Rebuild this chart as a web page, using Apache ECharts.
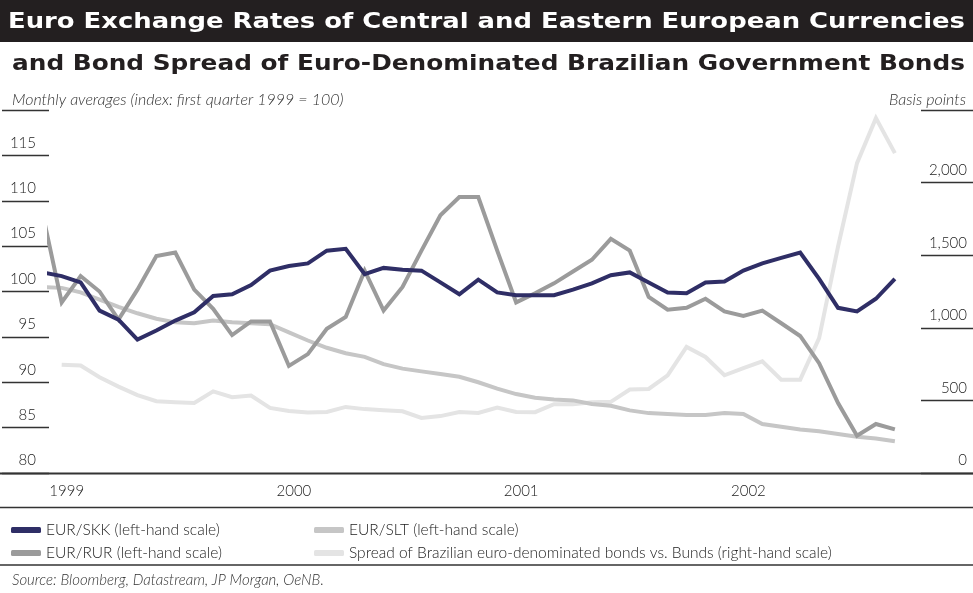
<!DOCTYPE html>
<html>
<head>
<meta charset="utf-8">
<title>Euro Exchange Rates of CEE Currencies and Brazilian Bond Spread</title>
<script src="https://cdn.jsdelivr.net/npm/echarts@6.0.0/dist/echarts.min.js"></script>
<style>
  html, body { margin: 0; padding: 0; background: #fff; }
  #chart { width: 973px; height: 593px; }
</style>
</head>
<body>
<div id="chart"></div>
<script>
// month index: -1 = Dec 1998, 0 = Jan 1999 ... 44 = Sep 2002
var firstMonth = -1;
var yearTicks = [0, 12, 24, 36];

// index, first quarter 1999 = 100 (left-hand scale)
var skk = [102.1, 101.7, 101.0, 97.9, 96.9, 94.7, 95.7, 96.8, 97.7, 99.5,
  99.7, 100.7, 102.3, 102.8, 103.1, 104.5, 104.7, 101.9, 102.6, 102.4,
  102.3, 101.0, 99.7, 101.3, 99.9, 99.6, 99.6, 99.6, 100.2, 100.9,
  101.8, 102.1, 101.0, 99.9, 99.8, 101.0, 101.1, 102.3, 103.1, 103.7,
  104.3, 101.4, 98.2, 97.8, 99.2, 101.4];
var rur = [108.5, 98.8, 101.7, 100.0, 96.9, 100.2, 103.9, 104.3, 100.2, 98.1,
  95.2, 96.7, 96.7, 91.8, 93.1, 95.9, 97.2, 102.3, 97.9, 100.5,
  104.5, 108.4, 110.4, 110.4, 104.5, 98.8, 99.8, 100.9, 102.2, 103.5,
  105.8, 104.5, 99.4, 98.0, 98.2, 99.2, 97.8, 97.3, 97.9, 96.5,
  95.1, 92.1, 87.7, 84.1, 85.4, 84.8];
var slt = [100.5, 100.4, 99.9, 99.1, 98.3, 97.6, 97.0, 96.6, 96.5, 96.8,
  96.6, 96.5, 96.4, 95.5, 94.6, 93.8, 93.2, 92.8, 92.0, 91.5,
  91.2, 90.9, 90.6, 90.0, 89.3, 88.7, 88.3, 88.1, 88.0, 87.6,
  87.4, 86.9, 86.6, 86.5, 86.4, 86.4, 86.6, 86.5, 85.4, 85.1,
  84.8, 84.6, 84.3, 84.0, 83.8, 83.5];
// basis points (right-hand scale)
var spread = [null, 746, 740, 660, 595, 536, 494, 488, 482, 562,
  522, 534, 448, 427, 417, 420, 455, 440, 432, 425,
  379, 392, 420, 413, 450, 420, 419, 474, 474, 487,
  490, 575, 579, 673, 868, 799, 673, 723, 769, 643,
  643, 929, 1560, 2134, 2444, 2203];

var names = [
  'EUR/SKK (left-hand scale)',
  'EUR/RUR (left-hand scale)',
  'EUR/SLT (left-hand scale)',
  'Spread of Brazilian euro-denominated bonds vs. Bunds (right-hand scale)'
];
var colors = ['#2f2e66', '#9b9b9b', '#c6c6c6', '#e4e4e4'];

function toPoints(arr) {
  return arr.map(function (v, i) { return [i + firstMonth, v]; });
}

// stretch a heading so it spans the same width as in the print layout
function fitScale(text, font, target) {
  var ctx = document.createElement('canvas').getContext('2d');
  ctx.font = font;
  return target / ctx.measureText(text).width;
}

var titleFont = 'bold 21px "DejaVu Sans"';
var title1 = 'Euro Exchange Rates of Central and Eastern European Currencies';
var title2 = 'and Bond Spread of Euro-Denominated Brazilian Government Bonds';
var labelFont = 'Lato, "Open Sans", sans-serif';

var chart = echarts.init(document.getElementById('chart'), null, { renderer: 'canvas' });

function lineSeries(idx, data, yIndex, z) {
  return {
    name: names[idx],
    type: 'line',
    yAxisIndex: yIndex,
    data: toPoints(data),
    showSymbol: false,
    symbol: 'none',
    z: z,
    lineStyle: { color: colors[idx], width: 4, join: 'miter' },
    itemStyle: { color: colors[idx] },
    emphasis: { disabled: true }
  };
}

var legendText = { fontSize: 15.5, fontWeight: 300, color: '#222', fontFamily: labelFont, lineHeight: 18 };

var option = {
  animation: false,
  backgroundColor: '#fff',
  grid: {
    left: 49,
    right: 52,
    top: 110,
    bottom: 120,
    containLabel: false,
    outerBoundsMode: 'none'
  },
  legend: [
    {
      orient: 'vertical',
      left: 6,
      top: 516,
      itemWidth: 30,
      itemHeight: 6,
      itemGap: 5,
      icon: 'roundRect',
      selectedMode: false,
      data: [names[0], names[1]],
      textStyle: legendText
    },
    {
      orient: 'vertical',
      left: 309,
      top: 516,
      itemWidth: 30,
      itemHeight: 6,
      itemGap: 5,
      icon: 'roundRect',
      selectedMode: false,
      data: [names[2], names[3]],
      textStyle: legendText
    }
  ],
  xAxis: {
    type: 'value',
    min: -0.67,
    max: 45.38,
    axisLine: { show: false, onZero: false },
    axisTick: { show: false },
    splitLine: { show: false },
    axisLabel: {
      customValues: yearTicks,
      formatter: function (v) { return String(1999 + Math.round(v / 12)); },
      margin: 11,
      fontSize: 15,
      fontWeight: 300,
      color: '#222',
      fontFamily: labelFont,
      padding: [0, 0, 0, 10]
    }
  },
  yAxis: [
    {
      type: 'value',
      position: 'left',
      min: 80,
      max: 120,
      interval: 5,
      axisLine: { show: false, onZero: false },
      axisTick: { show: true, inside: false, length: 47, lineStyle: { color: '#333', width: 1.3 } },
      splitLine: { show: false },
      axisLabel: {
        margin: 13,
        fontSize: 15,
        fontWeight: 300,
        color: '#222',
        fontFamily: labelFont,
        verticalAlign: 'bottom',
        lineHeight: 15,
        padding: [0, 0, 5, 0],
        formatter: function (v) { return v === 120 ? '' : String(v); }
      }
    },
    {
      type: 'value',
      position: 'right',
      min: 0,
      max: 2500,
      interval: 500,
      axisLine: { show: false, onZero: false },
      axisTick: { show: true, inside: false, length: 52, lineStyle: { color: '#333', width: 1.3 } },
      splitLine: { show: false },
      axisLabel: {
        margin: 46,
        align: 'right',
        fontSize: 15,
        fontWeight: 300,
        color: '#222',
        fontFamily: labelFont,
        verticalAlign: 'bottom',
        lineHeight: 15,
        padding: [0, 0, 5, 0],
        formatter: function (v) { return v === 2500 ? '' : v.toLocaleString('en-US'); }
      }
    }
  ],
  series: [
    lineSeries(3, spread, 1, 2),
    lineSeries(2, slt, 0, 3),
    lineSeries(1, rur, 0, 4),
    lineSeries(0, skk, 0, 5)
  ],
  graphic: [
    { type: 'rect', shape: { x: 0, y: 0, width: 973, height: 42 }, style: { fill: '#231f20' }, z: 1 },
    {
      type: 'text', x: 8, y: 23, z: 2,
      scaleX: fitScale(title1, titleFont, 957),
      style: { text: title1, font: titleFont, fill: '#fff', align: 'left', verticalAlign: 'middle' }
    },
    {
      type: 'text', x: 12, y: 65, z: 2,
      scaleX: fitScale(title2, titleFont, 953),
      style: { text: title2, font: titleFont, fill: '#231f20', align: 'left', verticalAlign: 'middle' }
    },
    {
      type: 'text', x: 12, y: 100, z: 2,
      style: { text: 'Monthly averages (index: first quarter 1999 = 100)', font: 'italic 300 16px ' + labelFont, fill: '#333', align: 'left', verticalAlign: 'middle' }
    },
    {
      type: 'text', x: 966, y: 100, z: 2,
      style: { text: 'Basis points', font: 'italic 300 16px ' + labelFont, fill: '#333', align: 'right', verticalAlign: 'middle' }
    },
    { type: 'line', shape: { x1: 0, y1: 473.5, x2: 973, y2: 473.5 }, style: { stroke: '#333', lineWidth: 2 }, z: 10 },
    { type: 'line', shape: { x1: 0, y1: 507.5, x2: 973, y2: 507.5 }, style: { stroke: '#333', lineWidth: 1.5 }, z: 10 },
    { type: 'line', shape: { x1: 0, y1: 565, x2: 973, y2: 565 }, style: { stroke: '#333', lineWidth: 1.5 }, z: 10 },
    {
      type: 'text', x: 12, y: 580, z: 2,
      style: { text: 'Source: Bloomberg, Datastream, JP Morgan, OeNB.', font: 'italic 300 15px ' + labelFont, fill: '#333', align: 'left', verticalAlign: 'middle' }
    }
  ]
};

chart.setOption(option);
window.addEventListener('resize', function () {
  chart.resize();
});
</script>
</body>
</html>
